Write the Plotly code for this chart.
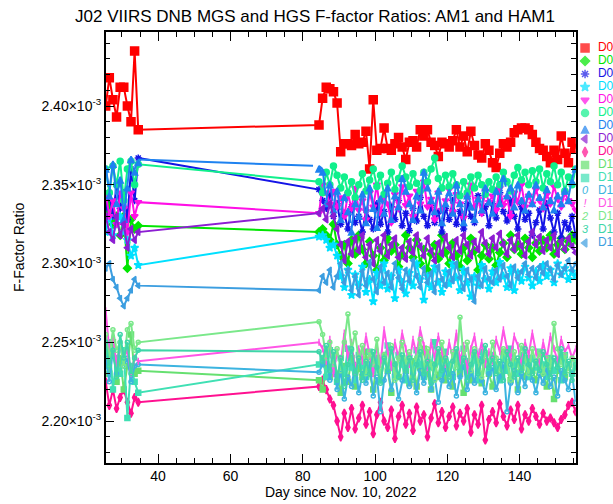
import numpy as np
import plotly.graph_objects as go

# ---------------- data (F-factor ratio in units of 1e-3) ----------------
days = [25.5, 26.5, 27.5, 28.5, 29.5, 30.5, 31.5, 32.5, 33.5, 34.5,
        84.5, 85.5, 86.5, 87.5, 88.5, 89.5, 90.5, 91.5, 92.5, 93.5, 94.5, 95.5,
        96.5, 97.5, 98.5, 99.5, 100.5, 101.5, 102.5, 103.5, 104.5, 105.5, 106.5, 107.5,
        108.5, 109.5, 110.5, 111.5, 112.5, 113.5, 114.5, 115.5, 116.5, 117.5, 118.5, 119.5,
        120.5, 121.5, 122.5, 123.5, 124.5, 125.5, 126.5, 127.5, 128.5, 129.5, 130.5, 131.5,
        132.5, 133.5, 134.5, 135.5, 136.5, 137.5, 138.5, 139.5, 140.5, 141.5, 142.5, 143.5,
        144.5, 145.5, 146.5, 147.5, 148.5, 149.5, 150.5, 151.5, 152.5, 153.5, 154.5, 155.5]

D01 = [2.400, 2.418, 2.404, 2.393, 2.412, 2.412, 2.400, 2.390, 2.435, 2.385,
       2.388, 2.405, 2.412, 2.411, 2.409, 2.402, 2.371, 2.376, 2.376, 2.375, 2.382, 2.376,
       2.377, 2.384, 2.360, 2.404, 2.372, 2.373, 2.386, 2.373, 2.372, 2.376, 2.380, 2.374,
       2.366, 2.377, 2.378, 2.374, 2.385, 2.381, 2.385, 2.377, 2.375, 2.368, 2.377, 2.376,
       2.374, 2.378, 2.385, 2.374, 2.381, 2.371, 2.384, 2.375, 2.369, 2.367, 2.376, 2.372,
       2.364, 2.361, 2.370, 2.376, 2.374, 2.377, 2.383, 2.385, 2.386, 2.386, 2.385, 2.382,
       2.377, 2.373, 2.372, 2.368, 2.364, 2.372, 2.366, 2.381, 2.370, 2.364, 2.377, 2.373]
D02 = [2.332, 2.338, 2.325, 2.330, 2.318, 2.330, 2.297, 2.328, 2.322, 2.324,
       2.320, 2.322, 2.318, 2.315, 2.325, 2.312, 2.305, 2.312, 2.300, 2.315, 2.306, 2.318,
       2.309, 2.300, 2.314, 2.305, 2.296, 2.310, 2.302, 2.316, 2.308, 2.312, 2.298, 2.306,
       2.318, 2.310, 2.304, 2.315, 2.300, 2.309, 2.296, 2.306, 2.312, 2.303, 2.318, 2.307,
       2.300, 2.313, 2.305, 2.298, 2.310, 2.302, 2.316, 2.308, 2.296, 2.305, 2.312, 2.303,
       2.310, 2.299, 2.307, 2.313, 2.304, 2.318, 2.309, 2.312, 2.306, 2.316, 2.310, 2.304,
       2.313, 2.308, 2.315, 2.310, 2.318, 2.306, 2.312, 2.316, 2.309, 2.314, 2.318, 2.315]
D03 = [2.335, 2.345, 2.330, 2.350, 2.335, 2.345, 2.328, 2.360, 2.340, 2.367,
       2.347, 2.340, 2.335, 2.344, 2.330, 2.338, 2.325, 2.332, 2.322, 2.336, 2.326, 2.330,
       2.320, 2.334, 2.328, 2.322, 2.338, 2.325, 2.333, 2.320, 2.336, 2.328, 2.340, 2.324,
       2.332, 2.321, 2.335, 2.327, 2.342, 2.330, 2.324, 2.337, 2.326, 2.333, 2.320, 2.335,
       2.328, 2.340, 2.325, 2.333, 2.322, 2.338, 2.330, 2.326, 2.343, 2.332, 2.336, 2.324,
       2.338, 2.329, 2.345, 2.333, 2.327, 2.340, 2.330, 2.322, 2.336, 2.328, 2.332, 2.318,
       2.326, 2.334, 2.322, 2.338, 2.329, 2.320, 2.332, 2.316, 2.326, 2.322, 2.330, 2.318]
D04 = [2.320, 2.330, 2.318, 2.325, 2.330, 2.320, 2.315, 2.305, 2.310, 2.299,
       2.317, 2.318, 2.315, 2.310, 2.312, 2.305, 2.292, 2.285, 2.296, 2.280, 2.293, 2.286,
       2.298, 2.282, 2.290, 2.276, 2.294, 2.286, 2.300, 2.284, 2.292, 2.278, 2.296, 2.288,
       2.281, 2.294, 2.286, 2.300, 2.290, 2.277, 2.292, 2.285, 2.298, 2.288, 2.282, 2.295,
       2.287, 2.300, 2.291, 2.283, 2.296, 2.288, 2.279, 2.292, 2.286, 2.299, 2.290, 2.284,
       2.295, 2.288, 2.301, 2.292, 2.285, 2.297, 2.283, 2.294, 2.289, 2.298, 2.291, 2.286,
       2.295, 2.289, 2.299, 2.292, 2.296, 2.288, 2.300, 2.293, 2.297, 2.290, 2.295, 2.292]
D05 = [2.345, 2.330, 2.340, 2.325, 2.345, 2.335, 2.320, 2.345, 2.330, 2.339,
       2.332, 2.350, 2.345, 2.338, 2.346, 2.336, 2.342, 2.330, 2.344, 2.335, 2.348, 2.334,
       2.340, 2.328, 2.345, 2.336, 2.350, 2.332, 2.342, 2.338, 2.326, 2.344, 2.335, 2.349,
       2.337, 2.343, 2.330, 2.346, 2.338, 2.352, 2.336, 2.341, 2.328, 2.345, 2.334, 2.340,
       2.347, 2.333, 2.344, 2.338, 2.329, 2.342, 2.350, 2.336, 2.341, 2.332, 2.346, 2.339,
       2.343, 2.334, 2.348, 2.337, 2.342, 2.330, 2.345, 2.339, 2.350, 2.336, 2.343, 2.338,
       2.347, 2.340, 2.335, 2.344, 2.338, 2.349, 2.341, 2.336, 2.345, 2.340, 2.338, 2.334]
D06 = [2.360, 2.345, 2.362, 2.350, 2.365, 2.340, 2.360, 2.365, 2.350, 2.363,
       2.352, 2.345, 2.358, 2.350, 2.362, 2.356, 2.348, 2.355, 2.345, 2.352, 2.342, 2.350,
       2.357, 2.346, 2.353, 2.360, 2.349, 2.356, 2.344, 2.351, 2.358, 2.347, 2.354, 2.362,
       2.355, 2.349, 2.357, 2.351, 2.346, 2.358, 2.352, 2.360, 2.367, 2.354, 2.348, 2.356,
       2.349, 2.357, 2.350, 2.343, 2.352, 2.345, 2.355, 2.348, 2.356, 2.350, 2.344, 2.352,
       2.347, 2.355, 2.350, 2.358, 2.352, 2.346, 2.356, 2.361, 2.353, 2.358, 2.350, 2.359,
       2.352, 2.360, 2.348, 2.357, 2.352, 2.362, 2.350, 2.358, 2.346, 2.355, 2.350, 2.360]
D07 = [2.362, 2.345, 2.365, 2.340, 2.355, 2.330, 2.350, 2.368, 2.360, 2.366,
       2.362, 2.360, 2.340, 2.352, 2.336, 2.348, 2.330, 2.344, 2.335, 2.322, 2.340, 2.332,
       2.346, 2.328, 2.350, 2.337, 2.325, 2.343, 2.334, 2.350, 2.330, 2.345, 2.338, 2.356,
       2.348, 2.340, 2.330, 2.345, 2.336, 2.360, 2.350, 2.342, 2.335, 2.348, 2.328, 2.340,
       2.347, 2.334, 2.352, 2.340, 2.328, 2.345, 2.338, 2.330, 2.343, 2.336, 2.350, 2.341,
       2.334, 2.348, 2.340, 2.356, 2.345, 2.350, 2.338, 2.352, 2.342, 2.336, 2.346, 2.340,
       2.352, 2.344, 2.338, 2.349, 2.342, 2.336, 2.345, 2.340, 2.348, 2.342, 2.354, 2.362]
D08 = [2.330, 2.320, 2.315, 2.330, 2.318, 2.325, 2.310, 2.322, 2.315, 2.320,
       2.332, 2.335, 2.328, 2.338, 2.330, 2.322, 2.312, 2.302, 2.314, 2.306, 2.316, 2.308,
       2.318, 2.304, 2.312, 2.300, 2.315, 2.308, 2.318, 2.305, 2.312, 2.316, 2.304, 2.310,
       2.303, 2.314, 2.307, 2.318, 2.311, 2.305, 2.316, 2.308, 2.302, 2.313, 2.306, 2.317,
       2.310, 2.304, 2.315, 2.308, 2.318, 2.312, 2.305, 2.314, 2.309, 2.320, 2.313, 2.306,
       2.316, 2.310, 2.319, 2.312, 2.306, 2.315, 2.309, 2.318, 2.311, 2.305, 2.314, 2.320,
       2.312, 2.317, 2.308, 2.315, 2.310, 2.318, 2.306, 2.314, 2.309, 2.316, 2.311, 2.307]
D09 = [2.225, 2.210, 2.220, 2.208, 2.215, 2.220, 2.212, 2.205, 2.215, 2.212,
       2.222, 2.226, 2.220, 2.214, 2.210, 2.200, 2.190, 2.205, 2.196, 2.208, 2.195, 2.202,
       2.210, 2.198, 2.206, 2.192, 2.204, 2.212, 2.200, 2.196, 2.207, 2.189, 2.203, 2.210,
       2.198, 2.205, 2.194, 2.209, 2.200, 2.204, 2.190, 2.202, 2.211, 2.199, 2.206, 2.196,
       2.203, 2.209, 2.197, 2.205, 2.200, 2.208, 2.193, 2.204, 2.198, 2.210, 2.188, 2.201,
       2.206, 2.199, 2.211, 2.203, 2.197, 2.207, 2.201, 2.210, 2.195, 2.204, 2.200, 2.208,
       2.203, 2.198, 2.205, 2.200, 2.202, 2.199, 2.196, 2.201, 2.204, 2.210, 2.212, 2.206]
D10 = [2.245, 2.230, 2.250, 2.225, 2.240, 2.220, 2.235, 2.255, 2.230, 2.232,
       2.226, 2.220, 2.236, 2.228, 2.242, 2.230, 2.218, 2.235, 2.225, 2.240, 2.222, 2.234,
       2.228, 2.244, 2.230, 2.220, 2.238, 2.226, 2.242, 2.232, 2.218, 2.236, 2.228, 2.240,
       2.232, 2.224, 2.238, 2.222, 2.234, 2.246, 2.230, 2.220, 2.236, 2.228, 2.242, 2.226,
       2.235, 2.222, 2.240, 2.230, 2.218, 2.234, 2.226, 2.242, 2.232, 2.224, 2.238, 2.230,
       2.222, 2.236, 2.228, 2.244, 2.232, 2.226, 2.238, 2.220, 2.234, 2.228, 2.240, 2.232,
       2.226, 2.238, 2.230, 2.222, 2.236, 2.214, 2.232, 2.240, 2.228, 2.236, 2.230, 2.234]
D11 = [2.235, 2.250, 2.220, 2.240, 2.230, 2.245, 2.202, 2.235, 2.225, 2.218,
       2.236, 2.240, 2.228, 2.245, 2.232, 2.225, 2.240, 2.230, 2.246, 2.234, 2.226, 2.242,
       2.235, 2.228, 2.244, 2.232, 2.240, 2.226, 2.238, 2.248, 2.234, 2.228, 2.242, 2.236,
       2.226, 2.240, 2.232, 2.245, 2.236, 2.228, 2.242, 2.234, 2.250, 2.238, 2.230, 2.244,
       2.236, 2.228, 2.242, 2.234, 2.246, 2.238, 2.230, 2.240, 2.226, 2.244, 2.236, 2.232,
       2.242, 2.234, 2.226, 2.240, 2.232, 2.246, 2.236, 2.230, 2.242, 2.238, 2.228, 2.240,
       2.234, 2.244, 2.236, 2.228, 2.240, 2.232, 2.238, 2.226, 2.242, 2.236, 2.230, 2.238]
D12 = [2.240, 2.225, 2.245, 2.230, 2.250, 2.235, 2.240, 2.225, 2.235, 2.236,
       2.231, 2.236, 2.244, 2.226, 2.238, 2.220, 2.232, 2.214, 2.228, 2.222, 2.236, 2.218,
       2.230, 2.224, 2.238, 2.216, 2.228, 2.206, 2.226, 2.234, 2.220, 2.230, 2.214, 2.226,
       2.236, 2.222, 2.230, 2.218, 2.232, 2.224, 2.238, 2.220, 2.228, 2.212, 2.226, 2.234,
       2.222, 2.230, 2.216, 2.228, 2.236, 2.220, 2.232, 2.224, 2.240, 2.226, 2.218, 2.230,
       2.234, 2.220, 2.228, 2.236, 2.206, 2.224, 2.232, 2.218, 2.230, 2.222, 2.236, 2.226,
       2.218, 2.230, 2.224, 2.234, 2.222, 2.228, 2.216, 2.232, 2.226, 2.220, 2.230, 2.212]
D13 = [2.270, 2.245, 2.255, 2.235, 2.250, 2.240, 2.245, 2.230, 2.240, 2.238,
       2.250, 2.246, 2.238, 2.252, 2.230, 2.244, 2.236, 2.256, 2.240, 2.250, 2.232, 2.246,
       2.238, 2.254, 2.242, 2.230, 2.248, 2.236, 2.258, 2.244, 2.234, 2.250, 2.240, 2.256,
       2.246, 2.236, 2.252, 2.242, 2.258, 2.248, 2.234, 2.250, 2.240, 2.254, 2.244, 2.236,
       2.250, 2.240, 2.256, 2.238, 2.248, 2.232, 2.246, 2.254, 2.240, 2.250, 2.236, 2.244,
       2.238, 2.252, 2.244, 2.258, 2.246, 2.240, 2.254, 2.248, 2.236, 2.250, 2.242, 2.256,
       2.244, 2.236, 2.250, 2.240, 2.254, 2.246, 2.238, 2.252, 2.244, 2.248, 2.240, 2.246]
D14 = [2.255, 2.240, 2.258, 2.245, 2.250, 2.235, 2.258, 2.262, 2.245, 2.250,
       2.263, 2.255, 2.240, 2.250, 2.236, 2.246, 2.232, 2.250, 2.268, 2.245, 2.256, 2.238,
       2.248, 2.230, 2.244, 2.236, 2.252, 2.228, 2.242, 2.234, 2.248, 2.226, 2.240, 2.250,
       2.236, 2.244, 2.228, 2.240, 2.252, 2.232, 2.246, 2.236, 2.226, 2.242, 2.250, 2.238,
       2.228, 2.244, 2.234, 2.266, 2.240, 2.250, 2.232, 2.246, 2.238, 2.228, 2.244, 2.236,
       2.250, 2.240, 2.232, 2.246, 2.238, 2.226, 2.244, 2.234, 2.248, 2.240, 2.230, 2.246,
       2.236, 2.244, 2.230, 2.240, 2.234, 2.262, 2.246, 2.236, 2.242, 2.232, 2.240, 2.236]
D15 = [2.250, 2.235, 2.245, 2.228, 2.255, 2.240, 2.250, 2.230, 2.240, 2.245,
       2.244, 2.238, 2.248, 2.232, 2.244, 2.226, 2.240, 2.222, 2.236, 2.246, 2.230, 2.240,
       2.226, 2.238, 2.230, 2.244, 2.234, 2.224, 2.240, 2.232, 2.246, 2.236, 2.228, 2.242,
       2.232, 2.240, 2.226, 2.236, 2.244, 2.230, 2.238, 2.224, 2.236, 2.246, 2.232, 2.240,
       2.228, 2.238, 2.246, 2.232, 2.240, 2.226, 2.236, 2.244, 2.230, 2.238, 2.248, 2.234,
       2.240, 2.230, 2.238, 2.226, 2.244, 2.236, 2.228, 2.240, 2.232, 2.246, 2.236, 2.230,
       2.238, 2.232, 2.244, 2.236, 2.228, 2.240, 2.234, 2.246, 2.230, 2.238, 2.226, 2.236]
D16 = [2.297, 2.300, 2.290, 2.285, 2.278, 2.273, 2.278, 2.283, 2.290, 2.286,
       2.283, 2.292, 2.288, 2.296, 2.285, 2.292, 2.300, 2.288, 2.296, 2.283, 2.292, 2.280,
       2.295, 2.286, 2.301, 2.290, 2.282, 2.298, 2.288, 2.294, 2.285, 2.300, 2.291, 2.284,
       2.296, 2.289, 2.302, 2.292, 2.285, 2.297, 2.288, 2.294, 2.282, 2.298, 2.290, 2.286,
       2.295, 2.289, 2.300, 2.291, 2.284, 2.296, 2.290, 2.276, 2.292, 2.286, 2.297, 2.290,
       2.288, 2.296, 2.290, 2.299, 2.292, 2.286, 2.298, 2.291, 2.295, 2.300, 2.293, 2.297,
       2.291, 2.298, 2.294, 2.300, 2.296, 2.290, 2.299, 2.293, 2.297, 2.302, 2.296, 2.300]

labels = ["D01", "D02", "D03", "D04", "D05", "D06", "D07", "D08",
          "D09", "D10", "D11", "D12", "D13", "D14", "D15", "D16"]
series = [D01, D02, D03, D04, D05, D06, D07, D08, D09, D10, D11, D12, D13, D14, D15, D16]
scale = 1e-3

y_tick_vals = [2.20, 2.25, 2.30, 2.35, 2.40]
y_tick_text = ["2.20×10<sup>-3</sup>", "2.25×10<sup>-3</sup>", "2.30×10<sup>-3</sup>",
               "2.35×10<sup>-3</sup>", "2.40×10<sup>-3</sup>"]
x_tick_vals = [40, 60, 80, 100, 120, 140]

# ---------------- styles ----------------
colors = ["#ff0000", "#00e600", "#1414e6", "#00e0ff", "#ff10e6", "#10f08c", "#1e82f0", "#8c1ed2",
          "#ff1090", "#66e070", "#40e0b4", "#3cb4e0", "#ff55e6", "#7ae88a", "#3ed6a8", "#3c9ee0"]
symbols = ["square", "diamond", "asterisk-open", "star", "triangle-down", "circle", "arrow-up",
           "triangle-left", "diamond-tall", "square-dot", "square-dot", "circle-open",
           "line-ns-open", "circle-open", "circle-open", "triangle-left"]
sizes = [8, 6, 6, 6, 6, 6, 6, 6, 6, 5, 5, 4, 5, 4, 4, 5]
glyphs = [None] * 11 + ["0", "!", "2", "3", None]

FONT = "Liberation Sans, Arial, Helvetica, sans-serif"
W, H = 613, 504
PL, PR, PT, PB = 105.7, 575.7, 32.0, 462.7

fig = go.Figure()
for lab, vals, col, sym, sz in zip(labels, series, colors, symbols, sizes):
    fig.add_trace(go.Scatter(
        x=days, y=np.array(vals) * scale, mode="lines+markers", name=lab,
        line=dict(color=col, width=2),
        marker=dict(symbol=sym, size=sz, color=col, line=dict(color=col, width=1.5)),
        showlegend=False))

# custom legend column (entries indexed by detector order)
idx = list(range(len(labels)))
mk_idx = [i for i in idx if glyphs[i] is None]
gl_idx = [i for i in idx if glyphs[i] is not None]
fig.add_trace(go.Scatter(
    x=[0.24] * len(mk_idx), y=mk_idx, xaxis="x2", yaxis="y2", mode="markers",
    marker=dict(symbol=[symbols[i] for i in mk_idx],
                size=[8 if i == 0 else 7 for i in mk_idx],
                color=[colors[i] for i in mk_idx],
                line=dict(color=[colors[i] for i in mk_idx], width=1.5)),
    showlegend=False, cliponaxis=False, hoverinfo="skip"))
fig.add_trace(go.Scatter(
    x=[0.24] * len(gl_idx), y=gl_idx, xaxis="x2", yaxis="y2", mode="text",
    text=["<i>" + glyphs[i] + "</i>" for i in gl_idx],
    textfont=dict(family=FONT, size=11, color=[colors[i] for i in gl_idx]),
    textposition="middle center", showlegend=False, cliponaxis=False, hoverinfo="skip"))
fig.add_trace(go.Scatter(
    x=[0.59] * len(idx), y=idx, xaxis="x2", yaxis="y2", mode="text",
    text=labels, textposition="middle right",
    textfont=dict(family=FONT, size=12, color=colors),
    showlegend=False, cliponaxis=False, hoverinfo="skip"))

axis_common = dict(showline=True, linecolor="black", linewidth=1.5, mirror="ticks",
                   ticks="inside", ticklen=9, tickwidth=1.3, tickcolor="black",
                   showgrid=False, zeroline=False,
                   tickfont=dict(family=FONT, size=14, color="black"))

fig.update_layout(
    width=W, height=H,
    margin=dict(l=0, r=0, t=0, b=0),
    paper_bgcolor="white", plot_bgcolor="rgba(0,0,0,0)",
    xaxis=dict(domain=[PL / W, PR / W], range=[25.5, 155.5], tickvals=x_tick_vals,
               minor=dict(dtick=5, tick0=0, ticks="inside", ticklen=5, tickcolor="black", tickwidth=1.2),
               title=dict(text="Day since Nov. 10, 2022", font=dict(family=FONT, size=14, color="black"),
                          standoff=2),
               **axis_common),
    yaxis=dict(domain=[1 - PB / H, 1 - PT / H], range=[2.1736e-3, 2.4470e-3],
               tickvals=[v * scale for v in y_tick_vals], ticktext=y_tick_text,
               minor=dict(dtick=0.01e-3, tick0=0, ticks="inside", ticklen=5, tickcolor="black", tickwidth=1.2),
               title=dict(text="F-Factor Ratio", font=dict(family=FONT, size=14, color="black"),
                          standoff=14),
               **axis_common),
    xaxis2=dict(domain=[0.94, 1.0], range=[0, 1], visible=False, anchor="y2"),
    yaxis2=dict(domain=[0, 1], range=[(H - 48) / 13.0, -48 / 13.0], visible=False, anchor="x2"),
    title=dict(text="J02 VIIRS DNB MGS and HGS F-factor Ratios: AM1 and HAM1",
               font=dict(family=FONT, size=17, color="black"),
               x=315 / W, xanchor="center", y=1 - 16 / H, yanchor="middle", xref="paper", yref="paper"),
    showlegend=False,
)

fig.write_html("out.html")
